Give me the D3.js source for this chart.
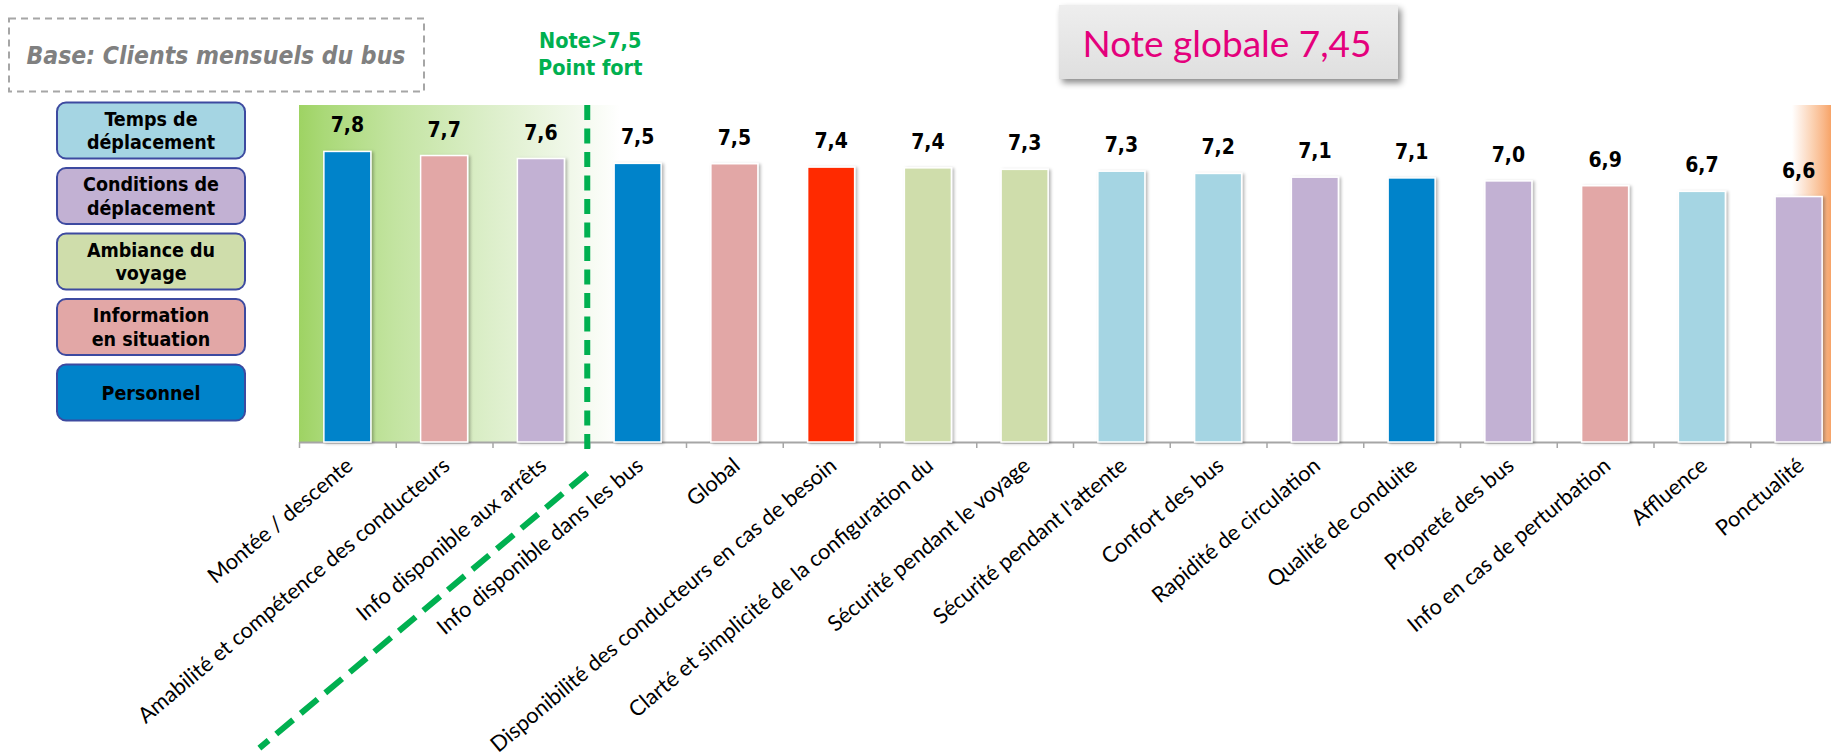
<!DOCTYPE html>
<html>
<head>
<meta charset="utf-8">
<script src="https://cdn.jsdelivr.net/npm/d3@7"></script>
<style>
  html, body { margin: 0; padding: 0; background: #ffffff; }
  svg { display: block; overflow: hidden; }
</style>
</head>
<body>
<svg id="chart" width="1831" height="752"></svg>
<script>
// ---------- DATA ----------
const categories = [
  "Montée / descente",
  "Amabilité et compétence des conducteurs",
  "Info disponible aux arrêts",
  "Info disponible dans les bus",
  "Global",
  "Disponibilité des conducteurs en cas de besoin",
  "Clarté et simplicité de la configuration du",
  "Sécurité pendant le voyage",
  "Sécurité pendant l'attente",
  "Confort des bus",
  "Rapidité de circulation",
  "Qualité de conduite",
  "Propreté des bus",
  "Info en cas de perturbation",
  "Affluence",
  "Ponctualité"
];
const values = [7.79, 7.68, 7.60, 7.47, 7.46, 7.37, 7.35, 7.31, 7.26, 7.20, 7.10, 7.08, 7.00, 6.87, 6.72, 6.58];
const valueLabels = ["7,8","7,7","7,6","7,5","7,5","7,4","7,4","7,3","7,3","7,2","7,1","7,1","7,0","6,9","6,7","6,6"];
const groups = ["pers","info","cond","pers","info","dispo","amb","amb","temps","temps","cond","pers","cond","info","temps","cond"];

const legendKeys = ["temps","cond","amb","info","pers"];
const legendLabels = [["Temps de","déplacement"],["Conditions de","déplacement"],["Ambiance du","voyage"],["Information","en situation"],["Personnel"]];
const groupColors = {
  temps: "#a5d5e3",
  cond:  "#c2b1d3",
  amb:   "#cfddab",
  info:  "#e2a7a6",
  pers:  "#0083ca",
  dispo: "#ff2a00"
};
const yDomain = [0, 9];
const baseText = "Base: Clients mensuels du bus";
const noteLines = ["Note>7,5", "Point fort"];
const globalText = "Note globale 7,45";

// ---------- LAYOUT ----------
const svg = d3.select("#chart");
const baseY = 442;
const x = d3.scaleBand().domain(categories).range([299, 1847]).paddingInner(0.514).paddingOuter(0.257);
const xEdge = d3.scaleLinear().domain([0, categories.length]).range([299, 1847]);
const y = d3.scaleLinear().domain(yDomain).range([baseY, baseY - 9 * 37.3]);
const plotTop = 105;

const defs = svg.append("defs");
const gGreen = defs.append("linearGradient").attr("id","gGreen").attr("gradientUnits","userSpaceOnUse")
  .attr("x1", 299).attr("x2", 620).attr("y1",0).attr("y2",0);
[[0,"#9ed363"],[0.08,"#aad978"],[0.3,"#c3e4a1"],[0.58,"#dbeec8"],[0.85,"#f1f8ea"],[1,"#ffffff"]]
  .forEach(s => gGreen.append("stop").attr("offset", s[0]).attr("stop-color", s[1]));
const gOrange = defs.append("linearGradient").attr("id","gOrange").attr("gradientUnits","userSpaceOnUse")
  .attr("x1", 1792).attr("x2", 1831).attr("y1",0).attr("y2",0);
[[0,"#ffffff"],[0.25,"#fde9db"],[0.55,"#fbcfae"],[0.8,"#f9b88a"],[1,"#f7a468"]]
  .forEach(s => gOrange.append("stop").attr("offset", s[0]).attr("stop-color", s[1]));
const gGray = defs.append("linearGradient").attr("id","gGray").attr("x1",0).attr("x2",0).attr("y1",0).attr("y2",1);
gGray.append("stop").attr("offset",0).attr("stop-color","#eeeeee");
gGray.append("stop").attr("offset",1).attr("stop-color","#dfdfdf");

const fBar = defs.append("filter").attr("id","fBar").attr("x","-20%").attr("y","-5%").attr("width","150%").attr("height","115%");
fBar.append("feDropShadow").attr("dx",2).attr("dy",1).attr("stdDeviation",1.5).attr("flood-color","#000").attr("flood-opacity",0.28);
const fBox = defs.append("filter").attr("id","fBox").attr("x","-10%").attr("y","-20%").attr("width","125%").attr("height","150%");
fBox.append("feDropShadow").attr("dx",3).attr("dy",4).attr("stdDeviation",3).attr("flood-color","#000").attr("flood-opacity",0.45);

// ---------- BACKGROUND ZONES ----------
svg.append("rect").attr("x", 299).attr("y", plotTop).attr("width", 321).attr("height", baseY - plotTop).attr("fill","url(#gGreen)");
svg.append("rect").attr("x", 1792).attr("y", plotTop).attr("width", 45).attr("height", baseY - plotTop).attr("fill","url(#gOrange)");

// ---------- AXIS ----------
const axis = svg.append("g").attr("transform", `translate(0,${baseY})`)
  .call(d3.axisBottom(xEdge).tickValues(d3.range(categories.length + 1)).tickSize(6).tickSizeOuter(0).tickFormat(""));
axis.select(".domain").attr("stroke","#a6a6a6").attr("stroke-width",2);
axis.selectAll(".tick line").attr("stroke","#a6a6a6").attr("stroke-width",1.5);

// ---------- BARS ----------
svg.append("g").selectAll("rect").data(categories).join("rect")
  .attr("x", d => x(d))
  .attr("y", (d,i) => y(values[i]))
  .attr("width", x.bandwidth())
  .attr("height", (d,i) => baseY - y(values[i]))
  .attr("fill", (d,i) => groupColors[groups[i]])
  .attr("stroke", "#ffffff").attr("stroke-width", 1.5)
  .attr("filter", "url(#fBar)");

// value labels
svg.append("g").selectAll("text").data(categories).join("text")
  .attr("x", d => x(d) + x.bandwidth() / 2)
  .attr("y", (d,i) => y(values[i]) - 19)
  .attr("text-anchor","middle")
  .attr("font-family","'DejaVu Sans Condensed', 'DejaVu Sans', sans-serif")
  .attr("font-weight","bold").attr("font-size", 21).attr("fill","#000")
  .text((d,i) => valueLabels[i]);

// category labels
svg.append("g").selectAll("text").data(categories).join("text")
  .attr("transform", d => `translate(${x(d) + x.bandwidth()/2 + 7},${baseY + 26}) rotate(-40)`)
  .attr("text-anchor","end")
  .attr("font-family","Lato, sans-serif")
  .attr("font-size", 21.7).attr("fill","#000")
  .text(d => d);

// ---------- THRESHOLD DASHED LINE ----------
const tx = xEdge(3) - 2;
svg.append("line").attr("x1", tx).attr("x2", tx).attr("y1", plotTop).attr("y2", baseY + 15)
  .attr("stroke","#00b050").attr("stroke-width",6).attr("stroke-dasharray","15 8.5");
const ang = 40 * Math.PI / 180;
const dLen = 428;
svg.append("line").attr("x1", tx).attr("y1", baseY + 31)
  .attr("x2", tx - dLen * Math.cos(ang)).attr("y2", baseY + 31 + dLen * Math.sin(ang))
  .attr("stroke","#00b050").attr("stroke-width",6).attr("stroke-dasharray","22 10");

svg.append("g").selectAll("text").data(noteLines).join("text")
  .attr("x", tx + 3).attr("y", (d,i) => 48 + i * 27)
  .attr("text-anchor","middle")
  .attr("font-family","'DejaVu Sans Condensed', 'DejaVu Sans', sans-serif")
  .attr("font-weight","bold").attr("font-size", 21.5).attr("fill","#00b050")
  .text(d => d);

// ---------- BASE BOX ----------
svg.append("rect").attr("x", 9).attr("y", 18.5).attr("width", 415).attr("height", 73)
  .attr("fill","none").attr("stroke","#a6a6a6").attr("stroke-width",2).attr("stroke-dasharray","7 5");
svg.append("text").attr("x", 216).attr("y", 64).attr("text-anchor","middle")
  .attr("font-family","'DejaVu Sans Condensed', 'DejaVu Sans', sans-serif")
  .attr("font-weight","bold").attr("font-style","italic").attr("font-size", 24.5).attr("fill","#808080")
  .text(baseText);

// ---------- NOTE GLOBALE BOX ----------
svg.append("rect").attr("x", 1059).attr("y", 5).attr("width", 339).attr("height", 74)
  .attr("fill","url(#gGray)").attr("filter","url(#fBox)");
svg.append("text").attr("x", 1227).attr("y", 57).attr("text-anchor","middle")
  .attr("font-family","Lato, sans-serif").attr("font-size", 37).attr("fill","#e4007c")
  .text(globalText);

// ---------- LEGEND ----------
const lg = svg.append("g").selectAll("g").data(legendKeys).join("g")
  .attr("transform", (d,i) => `translate(57,${102.5 + i * 65.5})`);
lg.append("rect").attr("width", 188).attr("height", 56).attr("rx", 9).attr("ry", 9)
  .attr("fill", d => groupColors[d]).attr("stroke","#3d4aa0").attr("stroke-width",2);
lg.each(function(d,i) {
  const lines = legendLabels[i];
  const g = d3.select(this);
  lines.forEach((ln, j) => {
    const cy = lines.length === 1 ? 28 : (j === 0 ? 16 : 39.5);
    g.append("text").attr("x", 94).attr("y", cy).attr("dy","0.36em").attr("text-anchor","middle")
      .attr("font-family","'DejaVu Sans Condensed', 'DejaVu Sans', sans-serif")
      .attr("font-weight","bold").attr("font-size", 19.5).attr("fill","#000")
      .text(ln);
  });
});
</script>
</body>
</html>
